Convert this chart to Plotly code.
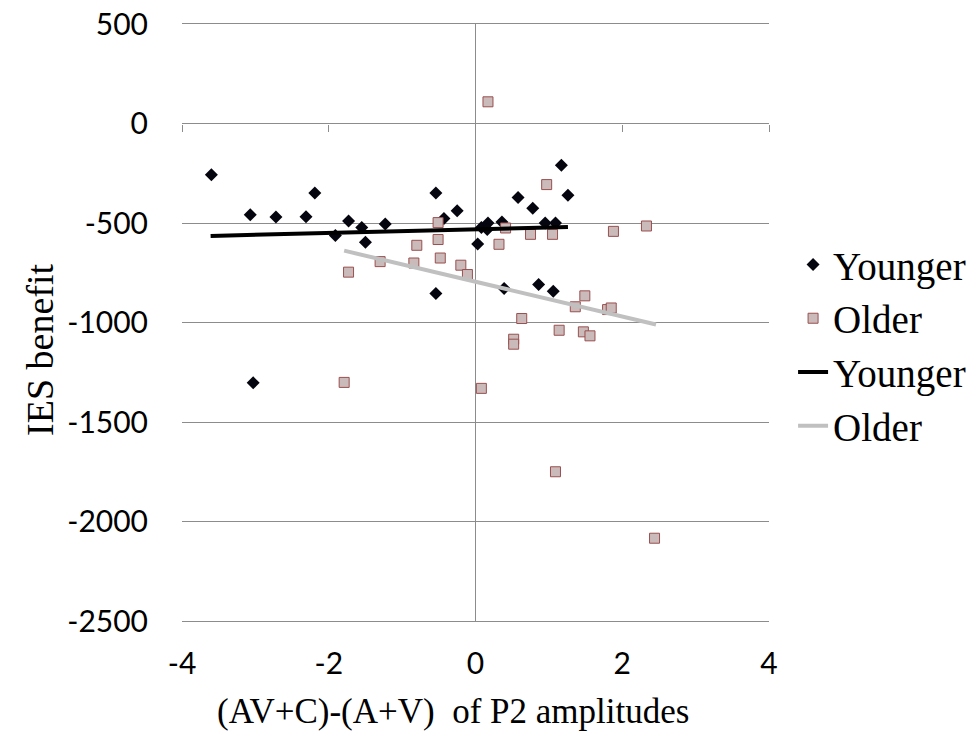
import plotly.graph_objects as go

# Younger group (black diamonds)
younger_x = [-3.60, -3.07, -2.72, -2.31, -2.19, -1.73, -1.55, -1.23, -1.91, -1.50,
             -0.54, -0.43, -0.25, -0.54, -3.03, 0.03, 0.08, 0.17, 0.16, 0.36,
             0.58, 0.78, 1.17, 1.26, 0.95, 1.09, 0.39, 0.86, 1.06]
younger_y = [-257, -458, -470, -468, -349, -490, -523, -505, -563, -597,
             -349, -478, -438, -854, -1303, -605, -523, -500, -533, -495,
             -372, -426, -210, -361, -500, -500, -829, -809, -843]

# Older group (pink-grey squares)
older_x = [-0.51, -0.51, -0.80, -0.48, -1.30, -0.84, -0.20, -0.11, -1.73, -1.79,
           0.08, 0.17, 0.97, 0.41, 0.75, 1.05, 0.32, 1.88, 2.33, 1.49,
           1.36, 1.80, 1.85, 0.63, 1.14, 1.47, 1.56, 0.52, 0.52, 1.09, 2.44]
older_y = [-498, -583, -612, -676, -694, -701, -712, -759, -747, -1301,
           -1331, 109, -307, -525, -557, -557, -607, -542, -515, -866,
           -921, -935, -927, -980, -1039, -1047, -1067, -1084, -1109, -1750, -2084]

# Linear trend lines (end points)
trend_young_x = [-3.61, 1.26]
trend_young_y = [-565, -520]
trend_old_x = [-1.79, 2.46]
trend_old_y = [-639, -1010]

x_ticks = [-4, -2, 0, 2, 4]
y_ticks = [500, 0, -500, -1000, -1500, -2000, -2500]

x_title = "(AV+C)-(A+V)  of P2 amplitudes"
y_title = "IES benefit"

grid = "#8c8c8c"
serif = "Liberation Serif"
sans = "Lato"

fig = go.Figure()
fig.add_trace(go.Scatter(x=younger_x, y=younger_y, mode="markers", name="Younger",
                         marker=dict(symbol="diamond", size=10, color="#05050f",
                                     line=dict(width=0))))
fig.add_trace(go.Scatter(x=older_x, y=older_y, mode="markers", name="Older",
                         marker=dict(symbol="square", size=10, color="#cbbaba",
                                     line=dict(width=1, color="#9a4f4f"))))
fig.add_trace(go.Scatter(x=trend_young_x, y=trend_young_y, mode="lines", name="Younger",
                         line=dict(color="#000000", width=4)))
fig.add_trace(go.Scatter(x=trend_old_x, y=trend_old_y, mode="lines", name="Older",
                         line=dict(color="#c0c0c0", width=4)))
# invisible trace on secondary axis to draw tick marks on the x axis crossing at y=0
fig.add_trace(go.Scatter(x=[None], y=[None], xaxis="x2", showlegend=False,
                         hoverinfo="skip"))

fig.update_layout(
    width=979, height=749,
    margin=dict(l=182, r=210, t=24, b=128, autoexpand=False),
    paper_bgcolor="white", plot_bgcolor="white",
    showlegend=True,
    legend=dict(x=1.041, y=0.462, xanchor="left", yanchor="middle",
                font=dict(family=serif, size=39, color="#000000"),
                bgcolor="rgba(0,0,0,0)", itemwidth=30, tracegroupgap=0),
    xaxis=dict(range=[-4, 4], tickvals=x_ticks, ticktext=[str(v) for v in x_ticks],
               showgrid=False, zeroline=True, zerolinecolor=grid, zerolinewidth=1,
               showline=True, mirror=True, linecolor=grid, linewidth=1,
               ticks="", ticklabelstandoff=16, automargin=False,
               ticklabeloverflow="allow",
               tickfont=dict(family=sans, size=30, color="#000000")),
    xaxis2=dict(range=[-4, 4], tickvals=x_ticks, overlaying="x", anchor="free",
                position=2500 / 3000, side="bottom", ticks="outside", ticklen=7,
                tickcolor=grid, showticklabels=False, showgrid=False, zeroline=False,
                showline=False, automargin=False),
    yaxis=dict(range=[-2500, 500], tickvals=y_ticks, ticktext=[str(v) for v in y_ticks],
               showgrid=True, gridcolor=grid, gridwidth=1, zeroline=False,
               showline=False, ticks="", ticklabelstandoff=33, automargin=False,
               ticklabeloverflow="allow",
               tickfont=dict(family=sans, size=30, color="#000000")),
    annotations=[
        dict(text=x_title, xref="paper", yref="paper", x=0.4617, y=-0.152,
             xanchor="center", yanchor="middle", showarrow=False,
             font=dict(family=serif, size=35, color="#000000")),
        dict(text=y_title, xref="paper", yref="paper", x=-0.242, y=0.454,
             xanchor="center", yanchor="middle", showarrow=False, textangle=-90,
             font=dict(family=serif, size=38, color="#000000")),
    ],
)

fig.write_html("out.html",
               config={"displayModeBar": False},
               post_script="document.body.style.margin='0px';"
                           "document.body.style.padding='0px';")
